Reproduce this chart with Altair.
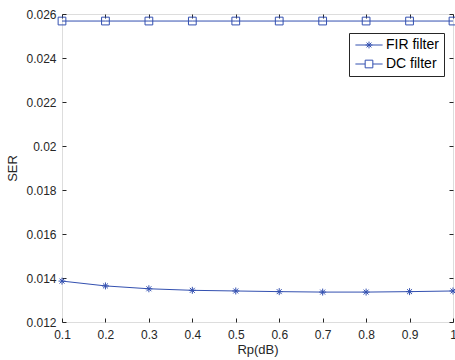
import altair as alt
import pandas as pd

# Passband ripple (dB) and symbol error rate for each filter
rp_db = [0.1, 0.2, 0.3, 0.4, 0.5, 0.6, 0.7, 0.8, 0.9, 1.0]
fir_ser = [0.01386, 0.01364, 0.01351, 0.01344, 0.01341, 0.01338, 0.01336, 0.01336, 0.01338, 0.01341]
dc_ser = [0.02568, 0.02568, 0.02568, 0.02568, 0.02568, 0.02568, 0.02568, 0.02568, 0.02568, 0.02568]
series_names = ["FIR filter", "DC filter"]

x_ticks = [0.1, 0.2, 0.3, 0.4, 0.5, 0.6, 0.7, 0.8, 0.9, 1.0]
y_ticks = [0.012, 0.014, 0.016, 0.018, 0.02, 0.022, 0.024, 0.026]

df = pd.DataFrame({
    "Rp": rp_db + rp_db,
    "SER": fir_ser + dc_ser,
    "series": [series_names[0]] * len(rp_db) + [series_names[1]] * len(rp_db),
})

BLUE = "#3350b0"
INK = "#262626"
FONT = "Liberation Sans"

# marker paths (unit radius, scaled by the symbol size)
ASTERISK = "M-0.9,0L0.9,0M0,-0.9L0,0.9M-0.64,-0.64L0.64,0.64M-0.64,0.64L0.64,-0.64"
SQUARE = "M-1,-1L1,-1L1,1L-1,1Z"

# legend samples: a line segment with the marker on it
LEG_FIR = "M-3.4,0L3.4,0M0,-0.85L0,0.85M-0.85,0L0.85,0M-0.6,-0.6L0.6,0.6M-0.6,0.6L0.6,-0.6"
LEG_DC = "M-3.4,0L-0.96,0M0.96,0L3.4,0M-0.96,-0.96L0.96,-0.96L0.96,0.96L-0.96,0.96Z"

x_scale = alt.Scale(domain=[0.1, 1.0], nice=False, zero=False)
y_scale = alt.Scale(domain=[0.012, 0.026], nice=False, zero=False)

tick_common = dict(domain=False, grid=False, tickSize=4, offset=-4, tickColor=INK,
                   tickWidth=1, labelFont=FONT, labelFontSize=12, labelColor=INK,
                   labelFlush=False, labelOverlap=False,
                   titleFont=FONT, titleFontSize=13, titleColor=INK, titleFontWeight="normal")

lines = alt.Chart(df).mark_line(strokeWidth=1, color=BLUE).encode(
    x=alt.X("Rp:Q", scale=x_scale,
            axis=alt.Axis(orient="bottom", values=x_ticks, format=".1~f", title="Rp(dB)",
                          labelPadding=7, titlePadding=3, **tick_common)),
    y=alt.Y("SER:Q", scale=y_scale,
            axis=alt.Axis(orient="left", values=y_ticks, format=".3~f", title="SER",
                          labelPadding=6, titlePadding=6, **tick_common)),
    detail="series:N",
)

points = alt.Chart(df).mark_point(filled=False, size=60, strokeWidth=1, opacity=1, color=BLUE).encode(
    x=alt.X("Rp:Q", scale=x_scale,
            axis=alt.Axis(orient="top", values=x_ticks, labels=False, title=None, **tick_common)),
    y=alt.Y("SER:Q", scale=y_scale,
            axis=alt.Axis(orient="right", values=y_ticks, labels=False, title=None, **tick_common)),
    shape=alt.Shape("series:N", scale=alt.Scale(domain=series_names, range=[ASTERISK, SQUARE]),
                    legend=None),
)

legend = alt.Legend(
    orient="none", legendX=287, legendY=19, title=None,
    strokeColor=INK, fillColor="white", padding=5,
    labelFont=FONT, labelFontSize=14, labelColor="black",
    symbolSize=64, symbolStrokeWidth=1, symbolOffset=8, labelOffset=10,
    symbolOpacity=1, symbolStrokeColor=BLUE, symbolFillColor="transparent",
    rowPadding=5,
)

# invisible layer that only carries the legend (line + marker samples)
legend_layer = alt.Chart(df).mark_point(filled=False, opacity=0, color=BLUE).encode(
    x=alt.X("Rp:Q", scale=x_scale, axis=None),
    y=alt.Y("SER:Q", scale=y_scale, axis=None),
    shape=alt.Shape("series:N", scale=alt.Scale(domain=series_names, range=[LEG_FIR, LEG_DC]),
                    legend=legend),
)

chart = alt.layer(lines, points, legend_layer).resolve_axis(
    x="independent", y="independent"
).resolve_scale(shape="independent").properties(
    width=391, height=308,
    autosize=alt.AutoSizeParams(type="none"),
    padding={"left": 62, "top": 14, "right": 2, "bottom": 38},
).configure_view(stroke=INK, strokeWidth=1).configure(background="white")

chart.save("out.html", embed_options={"renderer": "svg", "actions": False})
